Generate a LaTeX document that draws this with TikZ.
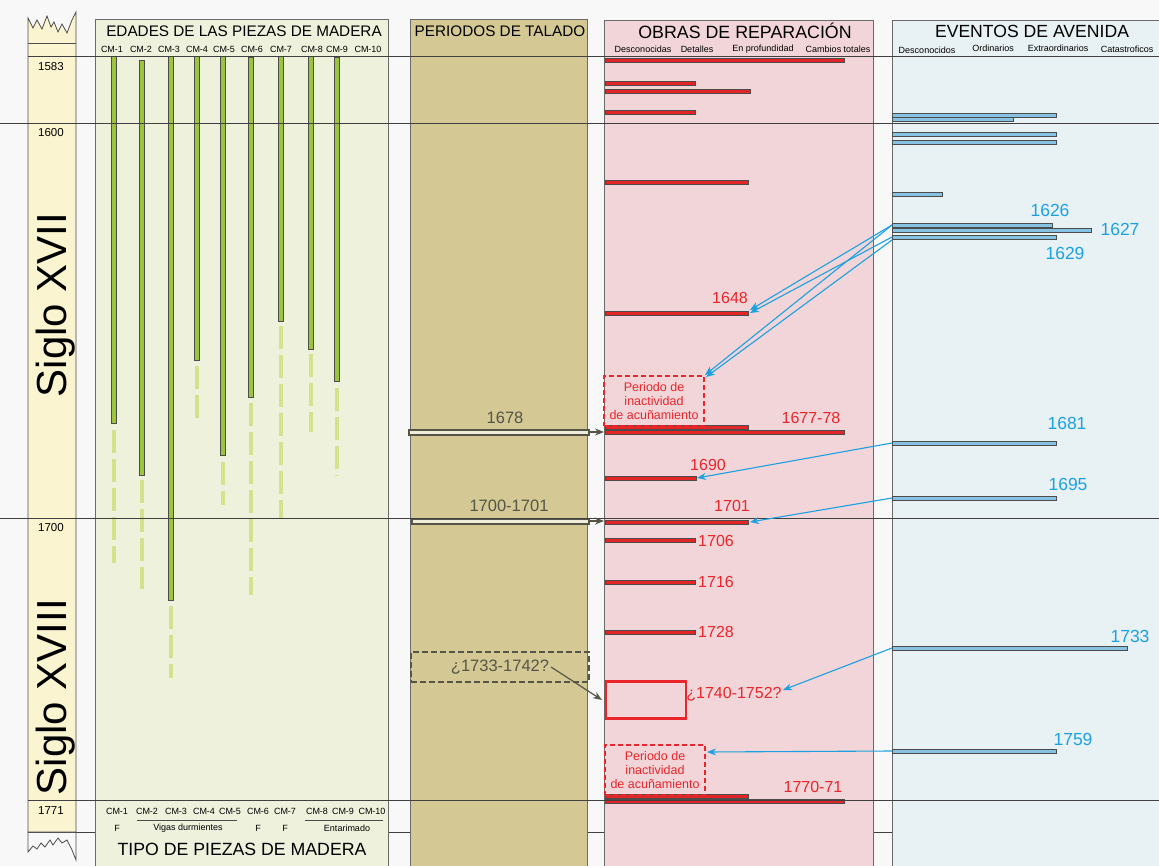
\documentclass[tikz,border=0pt]{standalone}
\usepackage{fontspec}
\setmainfont{Liberation Sans}
\usetikzlibrary{arrows.meta}

\definecolor{fondo}{HTML}{F8F8F8}
\definecolor{siglo}{HTML}{FBF4D0}
\definecolor{edades}{HTML}{EEF2DC}
\definecolor{talado}{HTML}{D4C994}
\definecolor{obras}{HTML}{F2D5D8}
\definecolor{eventos}{HTML}{E8F1F3}
\definecolor{verde}{HTML}{9BC53D}
\definecolor{verdeclaro}{HTML}{D3E28C}
\definecolor{rojo}{HTML}{E42527}
\definecolor{rojotexto}{HTML}{E8262B}
\definecolor{azul}{HTML}{86C3E3}
\definecolor{azultexto}{HTML}{1BA1E2}
\definecolor{gris}{HTML}{555548}
\definecolor{borde}{HTML}{6A6A6A}

\tikzset{
	panel/.style={draw=borde, line width=1pt},
	gridline/.style={draw=black!75, line width=0.9pt},
	barra/.style={draw=black!70, line width=0.7pt},
	tit/.style={font=\fontsize{15.3}{18}\selectfont, inner sep=0pt},
	sub/.style={font=\fontsize{9}{10}\selectfont, inner sep=0pt},
	anio/.style={font=\fontsize{11.5}{12}\selectfont, inner sep=0pt},
	rojolab/.style={font=\fontsize{16}{18}\selectfont, text=rojotexto, inner sep=0pt},
	azullab/.style={font=\fontsize{17.5}{19}\selectfont, text=azultexto, inner sep=0pt},
	grislab/.style={font=\fontsize{16.5}{18}\selectfont, text=gris, inner sep=0pt},
	inactbox/.style={draw=rojotexto, dash pattern=on 5pt off 3pt, line width=2pt, minimum width=100pt, minimum height=50pt,
		align=center, text=rojotexto, font=\fontsize{12.5}{14}\selectfont, inner sep=0pt},
	hueca/.style={draw=gris, line width=1.6pt, fill=talado!35!white},
	flechaazul/.style={draw=azultexto, line width=1.1pt, -{Stealth[length=9pt,width=7pt]}},
	flechagris/.style={draw=gris, line width=1.2pt, -{Stealth[length=9pt,width=7pt]}},
}

\begin{document}
\begin{tikzpicture}[x=1pt,y=-1pt]
	\useasboundingbox (0,0) rectangle (1159,866);
	\fill[fondo] (0,0) rectangle (1159,866);

	\draw[gridline] (28,832) -- (1159,832);

	\filldraw[panel, fill=edades] (95,20) rectangle (388,866);
	\filldraw[panel, fill=talado] (410,20) rectangle (587,866);
	\filldraw[panel, fill=obras] (604,21) rectangle (873,866);
	\filldraw[panel, fill=eventos] (892,21) rectangle (1165,866);

	\filldraw[draw=black!70, line width=0.8pt, fill=siglo]
	(28,18)--(33,28)--(37,20)--(42,29)--(47,16)--(51,27)--(54,22)--(58,32)--(62,24)--(67,33)--(72,20)--(76,12)
	--(76,832)--(28,832)--cycle;
	\draw[draw=black!70, line width=0.8pt]
	(28,832)--(28,852)--(33,846)--(37,849)--(41,843)--(45,847)--(50,840)--(53,845)--(58,838)--(62,843)--(67,840)--(72,850)--(76,860)--(76,832);
	\draw[draw=black!70, line width=0.8pt] (28,43) -- (76,43);

	\foreach \x/\t/\b/\ds/\de in {114/56/423/430/563, 142/60/475/480/589, 171/56/600/606/678,
		197/56/360/366/418, 223/56/455/462/505, 251/57/397/403/595, 281/56/321/326/518,
		311/56/349/354/432, 337/57/381/388/476}{
		\draw[verdeclaro, line width=4pt, dash pattern=on 23pt off 6pt] (\x,\ds) -- (\x,\de);
		\filldraw[barra, fill=verde] ({\x-2.2},\t) rectangle ({\x+2.2},\b);
	}

	\foreach \l/\y in {60/844, 83/695, 91/750, 112/695, 182/748, 313/748, 427/748, 432/844,
		478/696, 522/748, 540/695, 582/695, 632/695, 796/748, 801/844}{
		\filldraw[barra, fill=rojo] (605,{\l-2}) rectangle (\y,{\l+2});
	}

	\foreach \l/\y in {115/1056, 119/1013, 134/1056, 142/1056, 194/942, 225/1052, 230/1091,
		237/1056, 443/1056, 498/1056, 648/1127, 751/1056}{
		\filldraw[barra, fill=azul] (892,{\l-2}) rectangle (\y,{\l+2});
	}

	\filldraw[hueca] (409,430) rectangle (589,435);
	\filldraw[hueca] (412,519) rectangle (589,524);

	\draw[gridline] (28,56) -- (1159,56);
	\draw[gridline] (0,123) -- (1159,123);
	\draw[gridline] (0,518) -- (1159,518);
	\draw[gridline] (28,800) -- (1159,800);

	\node[tit] (tedades) at (244,31) {EDADES DE LAS PIEZAS DE MADERA};
	\node[tit] (ttalado) at (500,31) {PERIODOS DE TALADO};
	\node[tit, font=\fontsize{17.8}{19}\selectfont] (tobras) at (745,31) {OBRAS DE REPARACIÓN};
	\node[tit, font=\fontsize{17.6}{19}\selectfont] (teventos) at (1032,31) {EVENTOS DE AVENIDA};
	\node[tit, font=\fontsize{17.7}{21}\selectfont] (ttipo) at (242,849) {TIPO DE PIEZAS DE MADERA};

	\node[sub] (cm1) at (112,49) {CM-1};
	\node[sub] (cm2) at (141,49) {CM-2};
	\node[sub] (cm3) at (169,49) {CM-3};
	\node[sub] (cm4) at (197,49) {CM-4};
	\node[sub] (cm5) at (224,49) {CM-5};
	\node[sub] (cm6) at (252,49) {CM-6};
	\node[sub] (cm7) at (281,49) {CM-7};
	\node[sub] (cm8) at (312,49) {CM-8};
	\node[sub] (cm9) at (337,49) {CM-9};
	\node[sub] (cm10) at (368,49) {CM-10};

	\node[sub] (pcm1) at (117,811) {CM-1};
	\node[sub] (pcm2) at (147,811) {CM-2};
	\node[sub] (pcm3) at (176,811) {CM-3};
	\node[sub] (pcm4) at (204,811) {CM-4};
	\node[sub] (pcm5) at (230,811) {CM-5};
	\node[sub] (pcm6) at (258,811) {CM-6};
	\node[sub] (pcm7) at (285,811) {CM-7};
	\node[sub] (pcm8) at (317,811) {CM-8};
	\node[sub] (pcm9) at (343,811) {CM-9};
	\node[sub] (pcm10) at (372,811) {CM-10};
	\draw[black!70, line width=0.6pt] (137,820) -- (237,820);
	\draw[black!70, line width=0.6pt] (305,820) -- (383,820);
	\node[sub] (tf1) at (117,828) {F};
	\node[sub] (tvigas) at (188,828) {Vigas durmientes};
	\node[sub] (tf6) at (258,828) {F};
	\node[sub] (tf7) at (285,828) {F};
	\node[sub] (tentar) at (347,828) {Entarimado};

	\node[sub] (odesc) at (643,49) {Desconocidas};
	\node[sub] (odet) at (697,49) {Detalles};
	\node[sub] (oprof) at (763,49) {En profundidad};
	\node[sub] (ocamb) at (838,49) {Cambios totales};
	\node[sub] (edesc) at (927,50) {Desconocidos};
	\node[sub] (eord) at (993,48) {Ordinarios};
	\node[sub] (eext) at (1058,48) {Extraordinarios};
	\node[sub] (ecat) at (1127,49) {Catastroficos};

	\node[anio] (a1583) at (51,67) {1583};
	\node[anio] (a1600) at (51,133) {1600};
	\node[anio] (a1700) at (51,528) {1700};
	\node[anio] (a1771) at (51,811) {1771};
	\node[rotate=90, font=\fontsize{42}{44}\selectfont, inner sep=0pt] (sxvii) at (56,305) {Siglo XVII};
	\node[rotate=90, font=\fontsize{42}{44}\selectfont, inner sep=0pt] (sxviii) at (56,697) {Siglo XVIII};

	\node[grislab] (l1678) at (505,418) {1678};
	\node[grislab] (l1700) at (509,506) {1700-1701};
	\node[grislab, draw=gris, dash pattern=on 6pt off 3pt, line width=2pt, minimum width=178pt, minimum height=30pt] (tal1733) at (500,667) {¿1733-1742?};

	\node[rojolab] (r1648) at (730,298) {1648};
	\node[rojolab] (r1677) at (811,418) {1677-78};
	\node[rojolab] (r1690) at (708,465) {1690};
	\node[rojolab] (r1701) at (732,506) {1701};
	\node[rojolab] (r1706) at (716,541) {1706};
	\node[rojolab] (r1716) at (716,582) {1716};
	\node[rojolab] (r1728) at (716,632) {1728};
	\node[rojolab] (r1740) at (734,694) {¿1740-1752?};
	\node[rojolab] (r1770) at (813,787) {1770-71};
	\node[draw=rojotexto, line width=2.5pt, minimum width=80pt, minimum height=37pt, inner sep=0pt] (obra1740) at (646,700) {};
	\node[inactbox] (inact1) at (654,401) {Periodo de\\inactividad\\de acuñamiento};
	\node[inactbox] (inact2) at (655,770) {Periodo de\\inactividad\\de acuñamiento};

	\node[azullab] (b1626) at (1050,210) {1626};
	\node[azullab] (b1627) at (1120,229) {1627};
	\node[azullab] (b1629) at (1065,253) {1629};
	\node[azullab] (b1681) at (1067,423) {1681};
	\node[azullab] (b1695) at (1068,484) {1695};
	\node[azullab] (b1733) at (1130,636) {1733};
	\node[azullab] (b1759) at (1073,739) {1759};

	\path
	(892,225) coordinate (ev1626)
	(892,237) coordinate (ev1629)
	(892,240) coordinate (ev1629b)
	(892,443) coordinate (ev1681)
	(892,498) coordinate (ev1695)
	(892,648) coordinate (ev1733)
	(892,751) coordinate (ev1759)
	(750,310) coordinate (ob1648)
	(750,313) coordinate (ob1648b)
	(705,375) coordinate (ob1660)
	(706,377) coordinate (ob1660b)
	(697,478) coordinate (ob1690)
	(750,522) coordinate (ob1701)
	(783,690) coordinate (ob1740)
	(707,752) coordinate (ob1759)
	(589,432) coordinate (tal1678)
	(604,432) coordinate (obra1678)
	(589,521) coordinate (tal1700)
	(604,521) coordinate (obra1700)
	(551,667) coordinate (tal1733e)
	(602,700) coordinate (obra1740w);

	\draw[flechaazul] (ev1626)--(ob1648);
	\draw[flechaazul] (ev1629)--(ob1648b);
	\draw[flechaazul] (ev1626)--(ob1660);
	\draw[flechaazul] (ev1629b)--(ob1660b);
	\draw[flechaazul] (ev1681)--(ob1690);
	\draw[flechaazul] (ev1695)--(ob1701);
	\draw[flechaazul] (ev1733)--(ob1740);
	\draw[flechaazul] (ev1759)--(ob1759);

	\draw[flechagris] (tal1678)--(obra1678);
	\draw[flechagris] (tal1700)--(obra1700);
	\draw[flechagris] (tal1733e)--(obra1740w);
\end{tikzpicture}
\end{document}
